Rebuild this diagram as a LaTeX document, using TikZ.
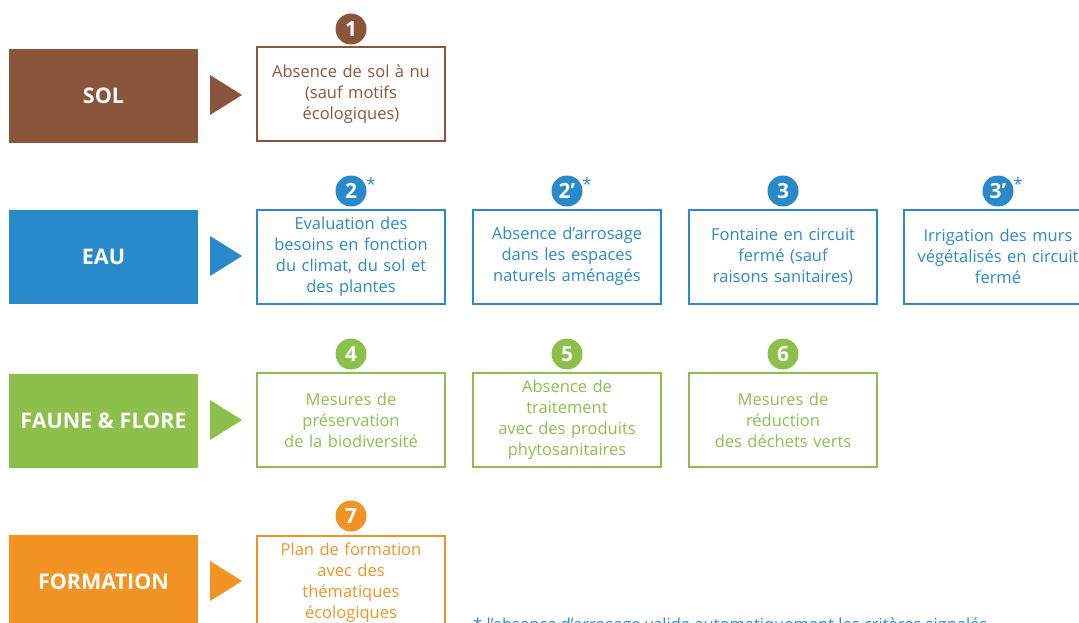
\documentclass[tikz,border=0pt]{standalone}
\usepackage{fontspec}
\setmainfont{Open Sans}
\usepackage{tikz}

\definecolor{solc}{RGB}{139,85,59}
\definecolor{eauc}{RGB}{40,137,203}
\definecolor{faunec}{RGB}{141,192,74}
\definecolor{formc}{RGB}{243,147,36}

\tikzset{
  categ/.style={fill=#1, text=white, minimum width=189pt, minimum height=94pt,
    inner sep=0pt, font=\bfseries\fontsize{21.5}{24}\selectfont},
  item/.style={draw=#1, line width=2pt, text=#1, minimum width=188pt, minimum height=94pt,
    text width=186pt, align=center, inner sep=0pt, font=\fontsize{16.5}{21}\selectfont},
  num/.style={circle, fill=#1, text=white, minimum size=31pt, inner sep=0pt,
    font=\bfseries\fontsize{21}{21}\selectfont},
  star/.style={text=eauc, font=\fontsize{17}{17}\selectfont, inner sep=0pt},
}

\begin{document}
\begin{tikzpicture}[x=1pt, y=-1pt]
\useasboundingbox (0,0) rectangle (1079,623);

% SOL
\draw (103.5,96) node[categ=solc] (sol) {SOL} ;
\fill[solc] (210,75) -- (242,95) -- (210,115) -- cycle ;
\draw (351,94.5) node[item=solc] (solA) {Absence de sol à nu\\(sauf motifs\\écologiques)} ;
\draw (351,29) node[num=solc] (n1) {1} ;

% EAU
\draw (103.5,257) node[categ=eauc] (eau) {EAU} ;
\fill[eauc] (210,236) -- (242,256) -- (210,276) -- cycle ;
\draw (351,256.5) node[item=eauc] (eauA) {Evaluation des\\besoins en fonction\\du climat, du sol et\\des plantes} ;
\draw (567,256.5) node[item=eauc] (eauB) {Absence d’arrosage\\dans les espaces\\naturels aménagés} ;
\draw (783,256.5) node[item=eauc] (eauC) {Fontaine en circuit\\fermé (sauf\\raisons sanitaires)} ;
\draw (998,256.5) node[item=eauc] (eauD) {Irrigation des murs\\végétalisés en circuit\\fermé} ;
\draw (351,191) node[num=eauc] (n2) {2} ;
\draw (567,191) node[num=eauc] (n2p) {2’} ;
\draw (783,191) node[num=eauc] (n3) {3} ;
\draw (998,191) node[num=eauc] (n3p) {3’} ;
\draw (371,184) node[star] (s2) {*} ;
\draw (587,184) node[star] (s2p) {*} ;
\draw (1018,184) node[star] (s3p) {*} ;

% FAUNE & FLORE
\draw (103.5,421) node[categ=faunec] (faune) {FAUNE \& FLORE} ;
\fill[faunec] (210,400) -- (242,420) -- (210,440) -- cycle ;
\draw (351,420) node[item=faunec] (fauneA) {Mesures de\\préservation\\de la biodiversité} ;
\draw (567,420) node[item=faunec] (fauneB) {Absence de\\traitement\\avec des produits\\phytosanitaires} ;
\draw (783,420) node[item=faunec] (fauneC) {Mesures de\\réduction\\des déchets verts} ;
\draw (351,354) node[num=faunec] (n4) {4} ;
\draw (567,354) node[num=faunec] (n5) {5} ;
\draw (783,354) node[num=faunec] (n6) {6} ;

% FORMATION
\draw (103.5,582) node[categ=formc] (form) {FORMATION} ;
\fill[formc] (210,561) -- (242,581) -- (210,601) -- cycle ;
\draw (351,583) node[item=formc] (formA) {Plan de formation\\avec des\\thématiques\\écologiques} ;
\draw (351,516) node[num=formc] (n7) {7} ;

\draw (473,630) node[anchor=base west, inner sep=0pt, text=eauc, font=\fontsize{16.5}{21}\selectfont] (note)
  {* l’absence d’arrosage valide automatiquement les critères signalés} ;

\end{tikzpicture}
\end{document}
